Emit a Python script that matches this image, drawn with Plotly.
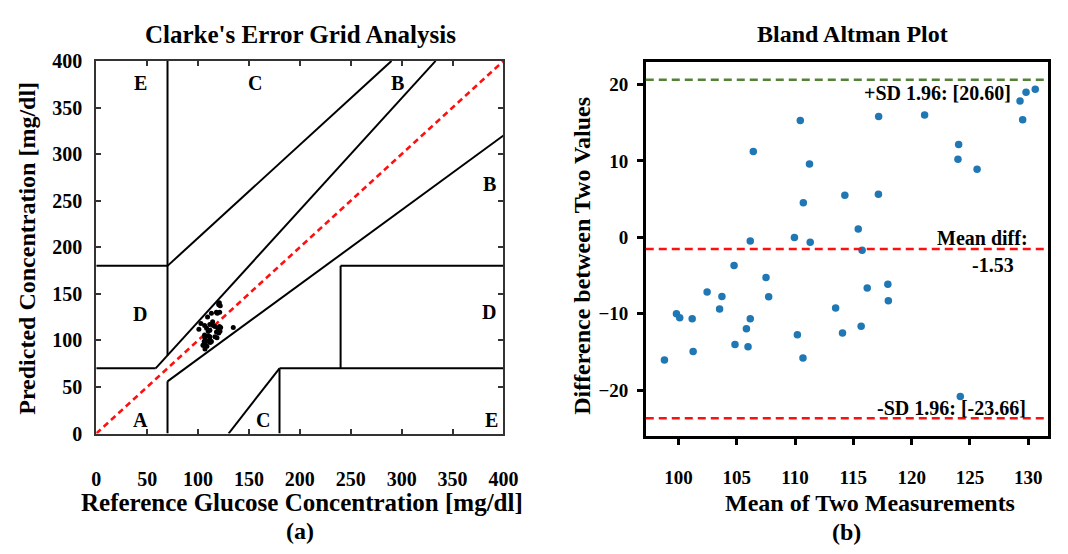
import plotly.graph_objects as go

W, H = 1068, 554
FONT = "Liberation Serif"

# ---------------- data ----------------
# Bland-Altman: mean of two measurements and their difference (predicted - reference)
ba_mean = [98.80, 99.83, 100.11, 101.18, 101.26, 102.46, 103.53, 103.73, 104.77, 104.85,
           105.83, 105.97, 106.16, 106.16, 106.42, 107.51, 107.74, 109.95, 110.20, 110.45,
           110.71, 110.68, 111.24, 111.30, 113.48, 114.07, 114.27, 115.42, 115.75, 115.67,
           116.19, 117.17, 117.15, 117.96, 118.00, 121.11, 124.03, 123.97, 124.17, 125.61,
           129.29, 129.52, 129.81, 130.60]
ba_diff = [-16.04, -9.99, -10.54, -10.66, -14.94, -7.14, -9.37, -7.73, -3.70, -14.02,
           -11.96, -14.31, -10.66, -0.47, 11.24, -5.25, -7.77, -0.03, -12.76, 15.27,
           4.53, -15.79, 9.60, -0.65, -9.24, -12.51, 5.49, 1.08, -1.69, -11.63,
           -6.63, 15.80, 5.63, -6.13, -8.31, 16.01, 12.15, 10.20, -20.82, 8.92,
           17.82, 15.37, 18.97, 19.36]
mean_diff = -1.53
upper_loa = 20.60
lower_loa = -23.66

# Clarke error grid: reference vs predicted glucose [mg/dl]
ref_glucose = [106.8, 104.8, 105.4, 106.5, 108.7, 106.0, 108.2, 107.6, 106.6, 111.9,
               111.8, 113.1, 111.5, 106.4, 100.8, 110.1, 111.6, 110.0, 116.6, 102.8,
               108.4, 118.6, 106.4, 111.6, 118.1, 120.3, 111.5, 114.9, 116.6, 121.5,
               119.5, 109.3, 114.3, 121.0, 122.2, 113.1, 118.0, 118.9, 134.6, 121.2,
               120.4, 121.8, 120.3, 120.9]
pred_glucose = [90.8, 94.8, 94.8, 95.9, 93.8, 98.9, 98.8, 99.9, 102.9, 97.8,
                99.9, 98.8, 100.8, 105.9, 112.0, 104.9, 103.9, 109.9, 103.8, 118.1,
                113.0, 102.8, 116.0, 111.0, 108.9, 107.8, 117.0, 116.0, 114.9, 109.9,
                112.9, 125.1, 120.0, 114.9, 113.8, 129.1, 130.1, 129.1, 113.8, 130.1,
                138.2, 137.2, 139.3, 140.3]

# Clarke zone boundaries (segments separated by None)
zone_x = [0, 175 / 3, None, 175 / 3, 400 / 1.2, None, 70, 70, None, 0, 70, None,
          70, 290, None, 70, 70, None, 70, 400, None, 180, 180, None,
          180, 400, None, 240, 240, None, 240, 400, None, 130, 180]
zone_y = [70, 70, None, 70, 400, None, 84, 400, None, 180, 180, None,
          180, 400, None, 0, 56, None, 56, 320, None, 0, 70, None,
          70, 70, None, 70, 180, None, 180, 180, None, 0, 70]
diag = [0, 400]

zone_labels = ["E", "C", "B", "B", "D", "D", "A", "C", "E"]
zone_label_x = [43, 156, 296, 386, 43, 386, 43, 164, 388]
zone_label_y = [376, 376, 376, 268, 128, 130, 15, 15, 15]

clarke_ticks = [0, 50, 100, 150, 200, 250, 300, 350, 400]
ba_xticks = [100, 105, 110, 115, 120, 125, 130]
ba_yticks = [-20, -10, 0, 10, 20]


def px(x):
    return x / W


def py(y):
    return 1 - y / H


fig = go.Figure()

# ---------- Clarke error grid ----------
fig.add_trace(go.Scatter(x=zone_x, y=zone_y, mode="lines", line=dict(color="black", width=2),
                         xaxis="x", yaxis="y", hoverinfo="skip", showlegend=False))
fig.add_trace(go.Scatter(x=diag, y=diag, mode="lines",
                         line=dict(color="#ff1010", width=2.5, dash="6px,4px"),
                         xaxis="x", yaxis="y", showlegend=False))
fig.add_trace(go.Scatter(x=ref_glucose, y=pred_glucose, mode="markers",
                         marker=dict(color="black", size=5),
                         xaxis="x", yaxis="y", showlegend=False))

# ---------- Bland-Altman ----------
fig.add_trace(go.Scatter(x=ba_mean, y=ba_diff, mode="markers",
                         marker=dict(color="#1f77b4", size=7.5),
                         xaxis="x2", yaxis="y2", showlegend=False))
for val, col in [(upper_loa, "#538135"), (mean_diff, "#ff1010"), (lower_loa, "#ff1010")]:
    fig.add_shape(type="line", xref="x2 domain", yref="y2", x0=0, x1=1, y0=val, y1=val,
                  line=dict(color=col, width=2.5, dash="8px,5px"))

ann = []
for t, xx, yy in zip(zone_labels, zone_label_x, zone_label_y):
    ann.append(dict(text=t, x=xx, y=yy, xref="x", yref="y", showarrow=False,
                    font=dict(family=FONT, size=20, color="black", weight="bold")))


def text(t, x, y, size, angle=0, xanchor="center"):
    ann.append(dict(text=t, x=px(x), y=py(y), xref="paper", yref="paper", showarrow=False,
                    xanchor=xanchor, yanchor="middle", textangle=angle,
                    font=dict(family=FONT, size=size, color="black", weight="bold")))


text("Clarke's Error Grid Analysis", 301, 24, 25)
text("Bland Altman Plot", 864, 24, 24)
text("Reference Glucose Concentration [mg/dl]", 303, 512, 25)
text("(a)", 301, 542, 24)
text("Mean of Two Measurements", 882, 512, 24)
text("(b)", 858, 543, 24)
text("Predicted Concentration [mg/dl]", 23, 247, 24, angle=-90)
text("Difference between Two Values", 588, 255, 24, angle=-90)
text(f"+SD 1.96: [{upper_loa:.2f}]", 950, 85, 20)
text("Mean diff:", 996, 236, 20)
text(f"{mean_diff:.2f}", 1007, 265, 20)
text(f"-SD 1.96: [{lower_loa:.2f}]", 965, 413, 20)

tickfont = dict(family=FONT, size=20, color="black", weight="bold")

fig.update_layout(
    width=W, height=H, margin=dict(l=0, r=0, t=0, b=0),
    paper_bgcolor="white", plot_bgcolor="white", showlegend=False,
    annotations=ann,
    xaxis=dict(domain=[px(93), px(508)], anchor="y", range=[0, 400], tickvals=clarke_ticks,
               showline=True, linecolor="#333", linewidth=2, mirror="ticks",
               ticks="inside", ticklen=5, tickwidth=2, tickcolor="#333",
               showgrid=False, zeroline=False, tickfont=tickfont, ticklabelstandoff=26),
    yaxis=dict(domain=[py(440), py(52)], anchor="x", range=[0, 400], tickvals=clarke_ticks,
               showline=True, linecolor="#333", linewidth=2, mirror="ticks",
               ticks="inside", ticklen=5, tickwidth=2, tickcolor="#333",
               showgrid=False, zeroline=False, tickfont=tickfont, ticklabelstandoff=8),
    xaxis2=dict(domain=[px(653), px(1063)], anchor="y2", range=[97.2, 131.7], tickvals=ba_xticks,
                showline=True, linecolor="black", linewidth=2.5, mirror=True,
                ticks="outside", ticklen=6, tickwidth=2.5, tickcolor="black",
                showgrid=False, zeroline=False, tickfont=dict(tickfont, size=19),
                ticklabelstandoff=16),
    yaxis2=dict(domain=[py(443), py(53)], anchor="x2", range=[-26.05, 22.95], tickvals=ba_yticks,
                showline=True, linecolor="black", linewidth=2.5, mirror=True,
                ticks="outside", ticklen=6, tickwidth=2.5, tickcolor="black",
                showgrid=False, zeroline=False, tickfont=dict(tickfont, size=19),
                ticklabelstandoff=5),
)

fig.write_html("out.html")
